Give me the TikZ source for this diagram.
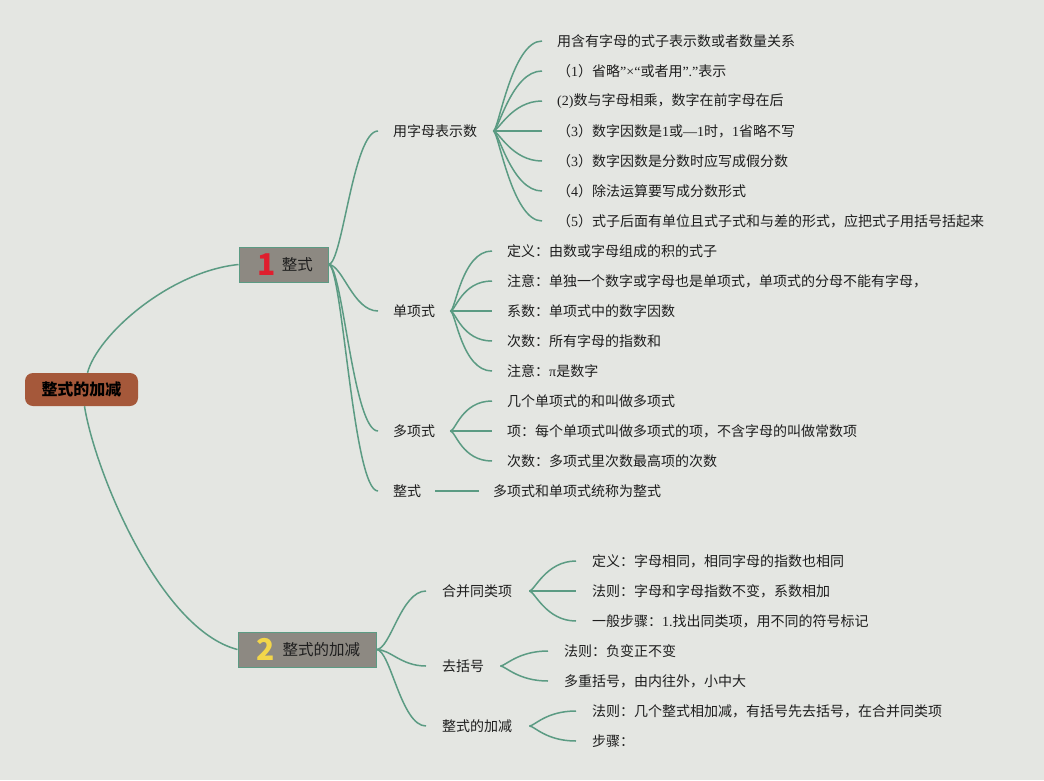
\documentclass[tikz,border=0pt]{standalone}
\usepackage{fontspec}
\setmainfont{Noto Sans CJK SC}
\newfontfamily\lat{Liberation Serif}
\definecolor{bgc}{HTML}{E4E6E2}
\definecolor{linec}{HTML}{5B9B83}
\definecolor{boxc}{HTML}{8D8982}
\definecolor{rootc}{HTML}{A5583A}
\definecolor{redone}{HTML}{E01E2E}
\definecolor{yeltwo}{HTML}{F3D64A}
\definecolor{txt}{HTML}{1E1E1E}
\begin{document}
\begin{tikzpicture}[x=1pt,y=-1pt,
  conn/.style={draw=linec, line width=1.5pt},
  branch/.style={conn, to path={.. controls +(14,0) and +(-25,0) .. (\tikztotarget)}},
  fan/.style={conn, to path={.. controls +(5,0) and +(-30,0) .. (\tikztotarget)}},
  lbl/.style={anchor=west, inner sep=0pt, text=txt, font=\fontsize{14}{16}\selectfont},
  leaf/.style={lbl},
  topic/.style={draw=linec, line width=1pt, fill=boxc, inner sep=0pt, minimum height=35pt, text=txt, font=\fontsize{15.5}{17}\selectfont},
  rootbox/.style={fill=rootc, rounded corners=8pt, minimum width=113pt, minimum height=33pt, inner sep=0pt, text=black, font=\fontsize{16}{18}\selectfont\bfseries}
]
\fill[bgc] (0,0) rectangle (1044,780);

% root and main topics
\node[rootbox] (root) at (81.5,389.5) {整式的加减};
\node[topic, minimum width=89pt] (n1) at (283.5,264.5)
  {\kern3.5pt{\fontsize{30}{30}\selectfont\bfseries\color{redone}1}\kern6pt\raisebox{5pt}{整式}};
\node[topic, minimum width=138pt] (n2) at (307,649.5)
  {\kern2.5pt{\fontsize{30}{30}\selectfont\bfseries\color{yeltwo}2}\kern8pt\raisebox{5pt}{整式的加减}};

\draw[conn] ([xshift=6pt]root.north) .. controls +(10,-38) and +(-69,7) .. (n1.west);
\draw[conn] ([xshift=3pt]root.south) .. controls +(10,64) and +(-78,-20) .. (n2.west);

% level 2 labels
\node[lbl] (yz) at (393,131) {用字母表示数};
\node[lbl] (dx) at (393,311) {单项式};
\node[lbl] (dd) at (393,431) {多项式};
\node[lbl] (zsl) at (393,491) {整式};
\node[lbl] (hb) at (442,591) {合并同类项};
\node[lbl] (qk) at (442,666) {去括号};
\node[lbl] (zj) at (442,726) {整式的加减};

\foreach \t in {yz,dx,dd,zsl}
  \draw[branch] (n1.east) to ([xshift=-15pt]\t.west);
\foreach \t in {hb,qk,zj}
  \draw[branch] (n2.east) to ([xshift=-16pt]\t.west);

% leaves of 用字母表示数
\node[leaf] (yz1) at (557,41) {用含有字母的式子表示数或者数量关系};
\node[leaf] (yz2) at (557,71) {（{\lat 1}）省略{\lat ”×“}或者用{\lat ”.”}表示};
\node[leaf] (yz3) at (557,101) {{\lat (2)}数与字母相乘，数字在前字母在后};
\node[leaf] (yz4) at (557,131) {（{\lat 3}）数字因数是{\lat 1}或{\lat —1}时，{\lat 1}省略不写};
\node[leaf] (yz5) at (557,161) {（{\lat 3}）数字因数是分数时应写成假分数};
\node[leaf] (yz6) at (557,191) {（{\lat 4}）除法运算要写成分数形式};
\node[leaf] (yz7) at (557,221) {（{\lat 5}）式子后面有单位且式子式和与差的形式，应把式子用括号括起来};
\foreach \i in {1,...,7}
  \draw[fan] ([xshift=16pt]yz.east) to ([xshift=-15pt]yz\i.west);

% leaves of 单项式
\node[leaf] (dx1) at (507,251) {定义：由数或字母组成的积的式子};
\node[leaf] (dx2) at (507,281) {注意：单独一个数字或字母也是单项式，单项式的分母不能有字母，};
\node[leaf] (dx3) at (507,311) {系数：单项式中的数字因数};
\node[leaf] (dx4) at (507,341) {次数：所有字母的指数和};
\node[leaf] (dx5) at (507,371) {注意：{\lat π}是数字};
\foreach \i in {1,...,5}
  \draw[fan] ([xshift=15pt]dx.east) to ([xshift=-15pt]dx\i.west);

% leaves of 多项式
\node[leaf] (dd1) at (507,401) {几个单项式的和叫做多项式};
\node[leaf] (dd2) at (507,431) {项：每个单项式叫做多项式的项，不含字母的叫做常数项};
\node[leaf] (dd3) at (507,461) {次数：多项式里次数最高项的次数};
\foreach \i in {1,...,3}
  \draw[fan] ([xshift=15pt]dd.east) to ([xshift=-15pt]dd\i.west);

% 整式
\node[leaf] (zs) at (493,491) {多项式和单项式统称为整式};
\draw[conn] ([xshift=14pt]zsl.east) -- ([xshift=-14pt]zs.west);

% leaves of 合并同类项
\node[leaf] (hb1) at (592,561) {定义：字母相同，相同字母的指数也相同};
\node[leaf] (hb2) at (592,591) {法则：字母和字母指数不变，系数相加};
\node[leaf] (hb3) at (592,621) {一般步骤：{\lat 1.}找出同类项，用不同的符号标记};
\foreach \i in {1,...,3}
  \draw[fan] ([xshift=17pt]hb.east) to ([xshift=-16pt]hb\i.west);

% leaves of 去括号
\node[leaf] (qk1) at (564,651) {法则：负变正不变};
\node[leaf] (qk2) at (564,681) {多重括号，由内往外，小中大};
\foreach \i in {1,2}
  \draw[fan] ([xshift=16pt]qk.east) to ([xshift=-16pt]qk\i.west);

% leaves of 整式的加减
\node[leaf] (zj1) at (592,711) {法则：几个整式相加减，有括号先去括号，在合并同类项};
\node[leaf] (zj2) at (592,741) {步骤：};
\foreach \i in {1,2}
  \draw[fan] ([xshift=17pt]zj.east) to ([xshift=-16pt]zj\i.west);
\end{tikzpicture}
\end{document}
